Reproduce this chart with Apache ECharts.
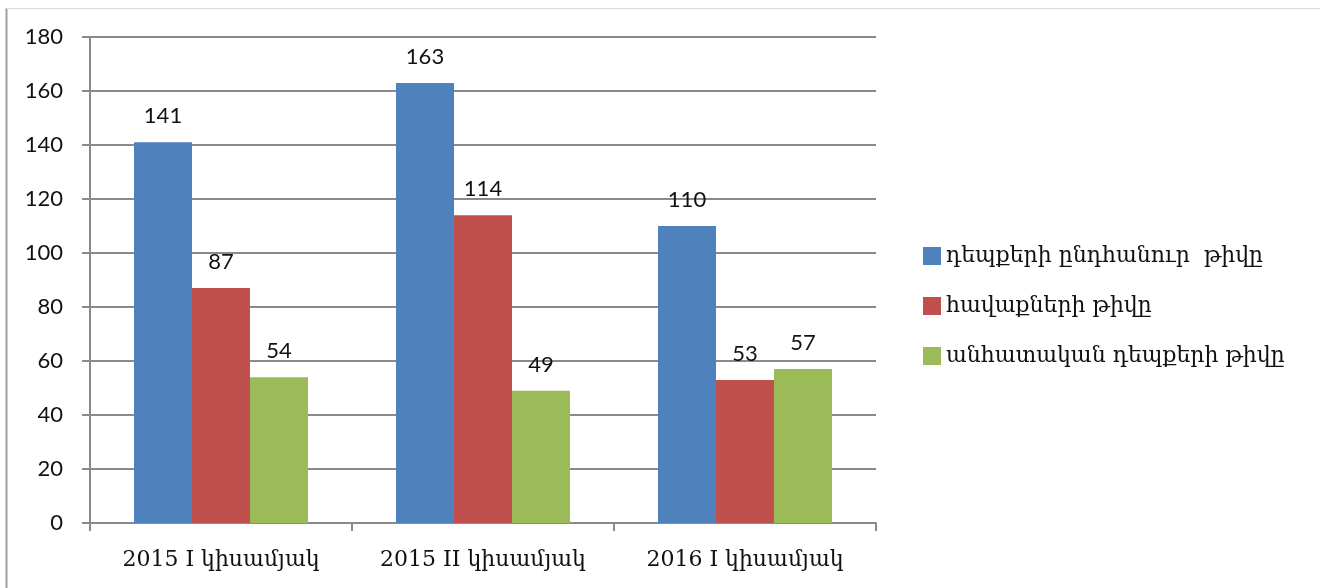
<!DOCTYPE html>
<html><head><meta charset="utf-8">
<script src="https://cdn.jsdelivr.net/npm/echarts@6/dist/echarts.min.js"></script>
<style>html,body{margin:0;padding:0;background:#fff}#c{width:1320px;height:588px}</style>
</head><body><div id="c"></div>
<script>
const categories = ['2015 I կիսամյակ', '2015 II կիսամյակ', '2016 I կիսամյակ'];
const seriesNames = ['դեպքերի ընդհանուր  թիվը', 'հավաքների թիվը', 'անհատական դեպքերի թիվը'];
const totalCases = [141, 163, 110];
const gatherings = [87, 114, 53];
const individualCases = [54, 49, 57];
const yTicks = {min: 0, max: 180, interval: 20};
const colors = ['#4F81BD', '#C0504D', '#9BBB59'];

const serif = '"DejaVu Serif", "Liberation Serif", serif';
const sans = 'Lato, "Liberation Sans", sans-serif';
const gray = '#8a8a8a';

const chart = echarts.init(document.getElementById('c'));
const datasets = [totalCases, gatherings, individualCases];
chart.setOption({
  animation: false,
  color: colors,
  graphic: [
    {type: 'line', shape: {x1: 6.5, y1: 8, x2: 6.5, y2: 588}, style: {stroke: '#a0a0a0', lineWidth: 2}},
    {type: 'line', shape: {x1: 6, y1: 8.5, x2: 1320, y2: 8.5}, style: {stroke: '#d9d9d9', lineWidth: 1}}
  ],
  grid: {left: 90, right: 444, top: 37, bottom: 65},
  legend: {
    orient: 'vertical', left: 918, top: 240,
    itemWidth: 18, itemHeight: 18, itemGap: 28, icon: 'rect',
    textStyle: {fontFamily: serif, fontSize: 22, color: '#111'},
    data: seriesNames
  },
  xAxis: {
    type: 'category', data: categories,
    axisLine: {lineStyle: {color: gray, width: 2}},
    axisTick: {show: true, length: 8, lineStyle: {color: gray, width: 2}},
    axisLabel: {interval: 0, hideOverlap: false, fontFamily: serif, fontSize: 22, color: '#111', margin: 26}
  },
  yAxis: {
    type: 'value', min: yTicks.min, max: yTicks.max, interval: yTicks.interval,
    axisLine: {show: true, lineStyle: {color: gray, width: 2}},
    axisTick: {show: true, length: 8, lineStyle: {color: gray, width: 2}},
    splitLine: {lineStyle: {color: gray, width: 2}},
    axisLabel: {fontFamily: sans, fontSize: 22, color: '#111', margin: 27}
  },
  series: datasets.map((d, i) => ({
    name: seriesNames[i], type: 'bar', data: d,
    barWidth: 58, barGap: '0%',
    label: {show: true, position: 'top', distance: 15, fontFamily: sans, fontSize: 22, color: '#111'}
  }))
});
</script></body></html>
